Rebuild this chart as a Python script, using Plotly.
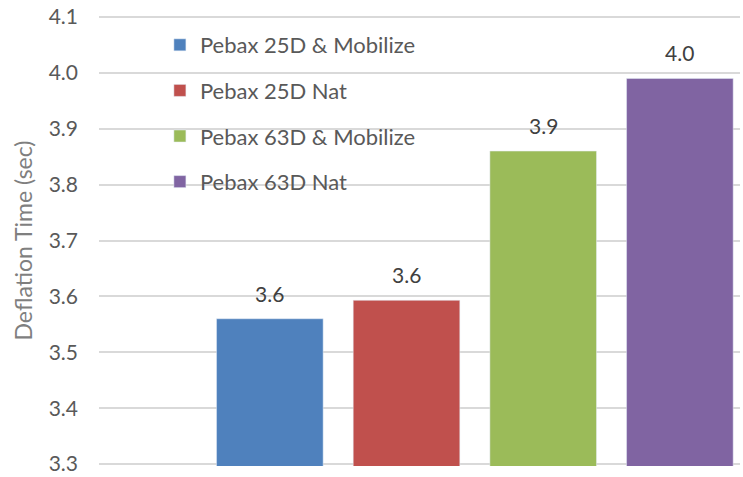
import plotly.graph_objects as go

series = ["Pebax 25D & Mobilize", "Pebax 25D Nat", "Pebax 63D & Mobilize", "Pebax 63D Nat"]
values = [3.56, 3.593, 3.86, 3.99]
labels = ["3.6", "3.6", "3.9", "4.0"]
colors = ["#4F81BD", "#C0504D", "#9BBB59", "#8064A2"]
positions = [1, 2, 3, 4]
yticks = [3.3, 3.4, 3.5, 3.6, 3.7, 3.8, 3.9, 4.0, 4.1]

fig = go.Figure()
for name, v, c, p in zip(series, values, colors, positions):
    fig.add_trace(go.Bar(x=[p], y=[v], name=name, marker_color=c, width=0.78,
                         legendgroup=name))

# value labels above the bars
for v, lab, p in zip(values, labels, positions):
    fig.add_annotation(x=p, y=v, text=lab, showarrow=False, yanchor="bottom",
                       yshift=11, font=dict(size=21, color="#404040"))

fig.update_layout(
    width=743, height=477,
    margin=dict(l=99, r=3, t=15, b=11, autoexpand=False),
    plot_bgcolor="white", paper_bgcolor="white",
    font=dict(family="Lato", color="#595959"),
    showlegend=True,
    legend=dict(x=0.095, y=0.98, xanchor="left", yanchor="top",
                font=dict(size=22, color="#595959"),
                bgcolor="rgba(0,0,0,0)", traceorder="grouped",
                tracegroupgap=14),
    xaxis=dict(range=[-0.25, 4.44], showticklabels=False, showgrid=False,
               zeroline=False, showline=False, automargin=False),
    # range padded a little so the edge gridlines at 3.3 and 4.1 are drawn
    yaxis=dict(range=[3.2965, 4.1035], tickmode="array", tickvals=yticks,
               ticktext=[f"{t:.1f}" for t in yticks],
               gridcolor="#D9D9D9", gridwidth=2, zeroline=False, automargin=False,
               tickfont=dict(size=21, color="#595959"), ticklabelstandoff=20,
               title=dict(text="Deflation Time (sec)", font=dict(size=23, color="#7F7F7F"),
                          standoff=9)),
)

# drop the default body margin so the figure sits at the page corner
fig.write_html("out.html", config={"displayModeBar": False},
               post_script="document.body.style.margin='0';")
